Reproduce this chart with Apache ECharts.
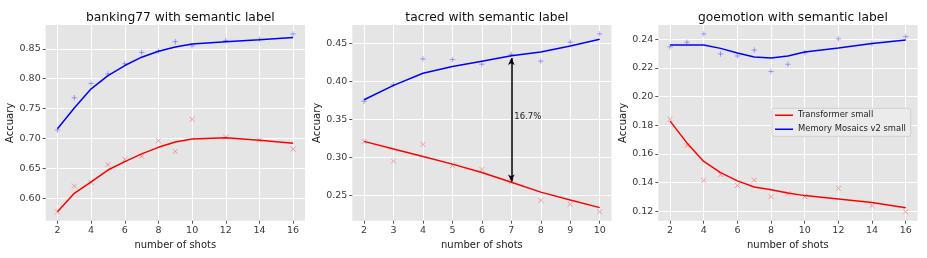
<!DOCTYPE html>
<html><head><meta charset="utf-8">
<script src="https://cdn.jsdelivr.net/npm/echarts@6/dist/echarts.min.js"></script>
<style>html,body{margin:0;padding:0;background:#fff}#c{width:927px;height:258px}</style>
</head><body><div id="c"></div>
<script>
// ---- data ----
var bankX = [2,3,4,5,6,7,8,9,10,12,14,16];
var bankMemPts = [0.714,0.768,0.792,0.808,0.825,0.844,0.846,0.862,0.855,0.864,0.866,0.875];
var bankMemFit = [0.716,0.751,0.783,0.805,0.822,0.836,0.846,0.853,0.858,0.862,0.865,0.869];
var bankTrPts  = [0.577,0.620,0.626,0.656,0.665,0.670,0.696,0.678,0.732,0.702,0.697,0.682];
var bankTrFit  = [0.577,0.608,0.627,0.647,0.661,0.674,0.685,0.694,0.699,0.701,0.697,0.692];

var tacX = [2,3,4,5,6,7,8,9,10];
var tacMemPts = [0.374,0.396,0.430,0.429,0.423,0.436,0.427,0.452,0.463];
var tacMemFit = [0.376,0.395,0.411,0.420,0.427,0.434,0.439,0.447,0.456];
var tacTrPts  = [0.321,0.295,0.317,0.289,0.284,0.268,0.243,0.238,0.228];
var tacTrFit  = [0.321,0.311,0.301,0.291,0.280,0.267,0.254,0.2435,0.2335];

var goX = [2,3,4,5,6,7,8,9,10,12,14,16];
var goMemPts = [0.2347,0.2379,0.2437,0.2297,0.2283,0.2324,0.2175,0.2225,0.2306,0.2402,0.2370,0.2418];
var goMemFit = [0.2359,0.2360,0.2360,0.2336,0.2303,0.2276,0.2269,0.2283,0.2310,0.2338,0.2370,0.2395];
var goTrPts  = [0.1841,0.1657,0.1414,0.1455,0.1379,0.1416,0.1301,0.1322,0.1301,0.1359,0.1237,0.1195];
var goTrFit  = [0.1828,0.1676,0.1547,0.1469,0.1411,0.1368,0.1349,0.1326,0.1308,0.1285,0.1260,0.1223];

var titles = ['banking77 with semantic label','tacred with semantic label','goemotion with semantic label'];
var bankXTicks = [2,4,6,8,10,12,14,16];
var tacXTicks = [2,3,4,5,6,7,8,9,10];
var goXTicks = [2,4,6,8,10,12,14,16];
var bankYTicks = [0.60,0.65,0.70,0.75,0.80,0.85];
var tacYTicks = [0.25,0.30,0.35,0.40,0.45];
var goYTicks = [0.12,0.14,0.16,0.18,0.20,0.22,0.24];

var arrowX = 7, arrowTop = 0.431, arrowBottom = 0.268;
var arrowLabel = '16.7%', arrowLabelY = 0.354;

var nameTr = 'Transformer small', nameMem = 'Memory Mosaics v2 small';

// ---- chart ----
var FONT = 'DejaVu Sans';
function range(arrs){
  var all = [].concat.apply([], arrs);
  var mn = Math.min.apply(null, all), mx = Math.max.apply(null, all);
  var m = (mx - mn) * 0.05;
  return [mn - m, mx + m];
}
var panels = [
  {x: bankX, mp: bankMemPts, mf: bankMemFit, tp: bankTrPts, tf: bankTrFit, xt: bankXTicks, yt: bankYTicks, left: 45.7},
  {x: tacX, mp: tacMemPts, mf: tacMemFit, tp: tacTrPts, tf: tacTrFit, xt: tacXTicks, yt: tacYTicks, left: 352.3},
  {x: goX, mp: goMemPts, mf: goMemFit, tp: goTrPts, tf: goTrFit, xt: goXTicks, yt: goYTicks, left: 658.3}
];
var GW = 259.2, GT = 25, GH = 195.7;
var grids = [], xAxes = [], yAxes = [], series = [], title = [];
var plusPath = 'path://M0,5L10,5M5,0L5,10';
var xPath = 'path://M0,0L10,10M0,10L10,0';
var legendLine = 'path://M0,0h0.01v0.01h-0.01z M0,4.3h18v1.5h-18z M17.99,9.99h0.01v0.01h-0.01z';
function pair(xs, ys){ return xs.map(function(x,i){ return [x, ys[i]]; }); }

panels.forEach(function(p, i){
  grids.push({left: p.left, top: GT, width: GW, height: GH, backgroundColor: '#E5E5E5', show: true, borderWidth: 0});
  var xr = range([p.x]), yr = range([p.mp, p.mf, p.tp, p.tf]);
  var lblColor = '#3a3a3a';
  xAxes.push({type: 'value', gridIndex: i, min: xr[0], max: xr[1],
    name: 'number of shots', nameLocation: 'middle', nameGap: 12,
    nameTextStyle: {fontFamily: FONT, fontSize: 10, color: '#222'},
    axisLine: {show: false},
    axisTick: {show: true, length: 3, lineStyle: {color: '#555'}, customValues: p.xt},
    axisLabel: {fontFamily: FONT, fontSize: 9.5, color: lblColor, margin: 5, customValues: p.xt, formatter: function(v){ return String(v); }},
    splitLine: {show: true, lineStyle: {color: '#ffffff', width: 1}}
  });
  yAxes.push({type: 'value', gridIndex: i, min: yr[0], max: yr[1],
    name: 'Accuary', nameLocation: 'middle', nameGap: 26,
    nameTextStyle: {fontFamily: FONT, fontSize: 10, color: '#222'},
    axisLine: {show: false},
    axisTick: {show: true, length: 3, lineStyle: {color: '#555'}, customValues: p.yt},
    axisLabel: {fontFamily: FONT, fontSize: 9.5, color: lblColor, margin: 5, customValues: p.yt, formatter: function(v){ return v.toFixed(2); }},
    splitLine: {show: true, lineStyle: {color: '#ffffff', width: 1}}
  });
  title.push({text: titles[i], left: p.left + GW/2, top: 7, textAlign: 'center',
    textStyle: {fontFamily: FONT, fontSize: 12.3, fontWeight: 'normal', color: '#111'}});
  series.push({type: 'scatter', name: 'mem pts ' + i, xAxisIndex: i, yAxisIndex: i, data: pair(p.x, p.mp),
    symbol: plusPath, symbolSize: 5.5, itemStyle: {color: 'transparent', borderColor: 'rgba(0,0,255,0.4)', borderWidth: 1}, z: 3});
  series.push({type: 'scatter', name: 'tr pts ' + i, xAxisIndex: i, yAxisIndex: i, data: pair(p.x, p.tp),
    symbol: xPath, symbolSize: 5, itemStyle: {color: 'transparent', borderColor: 'rgba(255,0,0,0.4)', borderWidth: 1}, z: 3});
  var trLine = {type: 'line', name: nameTr, xAxisIndex: i, yAxisIndex: i, data: pair(p.x, p.tf),
    symbol: 'none', lineStyle: {color: '#FF0000', width: 1.5}, itemStyle: {color: '#FF0000'}, z: 4};
  var memLine = {type: 'line', name: nameMem, xAxisIndex: i, yAxisIndex: i, data: pair(p.x, p.mf),
    symbol: 'none', lineStyle: {color: '#0000FF', width: 1.5}, itemStyle: {color: '#0000FF'}, z: 4};
  if (i === 1) {
    trLine.markLine = {silent: true, symbol: ['arrow','arrow'], symbolSize: [5, 7], animation: false,
      lineStyle: {color: '#000', width: 1.5, type: 'solid'}, label: {show: false},
      data: [[{coord: [arrowX, arrowTop]}, {coord: [arrowX, arrowBottom]}]]};
    trLine.markPoint = {silent: true, animation: false, symbol: 'circle', symbolSize: 0,
      label: {show: true, position: 'right', distance: 3, formatter: arrowLabel, fontFamily: FONT, fontSize: 8.5, color: '#222'},
      data: [{coord: [arrowX, arrowLabelY]}]};
  }
  series.push(trLine);
  series.push(memLine);
});

var chart = echarts.init(document.getElementById('c'), null, {renderer: 'canvas'});
chart.setOption({
  animation: false,
  backgroundColor: '#ffffff',
  title: title,
  grid: grids, xAxis: xAxes, yAxis: yAxes,
  legend: {data: [{name: nameTr, icon: legendLine}, {name: nameMem, icon: legendLine}],
    orient: 'vertical', left: 772, top: 108.3,
    padding: [2, 5, 2, 3], itemGap: 4, itemWidth: 18, itemHeight: 10,
    backgroundColor: 'rgba(235,235,235,0.9)', borderColor: '#d0d0d0', borderWidth: 1, borderRadius: 2,
    textStyle: {fontFamily: FONT, fontSize: 8.4, color: '#222', lineHeight: 10}, selectedMode: false},
  series: series
});
</script></body></html>
